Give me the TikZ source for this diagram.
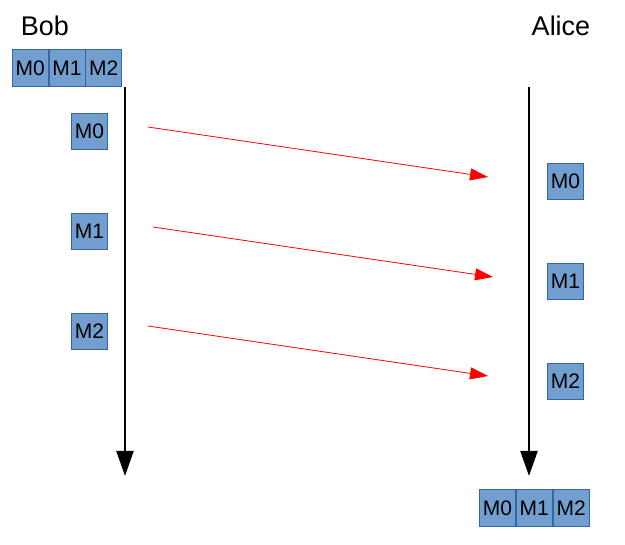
\documentclass[tikz,border=0pt]{standalone}
\usepackage{fontspec}
\setmainfont{Liberation Sans}
\usetikzlibrary{arrows.meta,positioning}
\definecolor{boxfill}{HTML}{729FCF}
\definecolor{boxline}{HTML}{3465A4}
\tikzset{
  msg/.style={draw=boxline, fill=boxfill, line width=0.8pt, minimum width=36pt, minimum height=36.5pt, inner sep=0pt, font=\fontsize{21}{21}\selectfont, text=black},
  life/.style={line width=2.2pt, -{Triangle[length=25pt,width=17pt]}},
  send/.style={red, line width=0.8pt, -{Triangle[length=18pt,width=12pt]}},
  who/.style={font=\fontsize{27}{27}\selectfont, anchor=base}
}
\begin{document}
\begin{tikzpicture}[x=1pt,y=-1pt]
\useasboundingbox (0,0) rectangle (625,545);
\node[who] (bob) at (45,35.5) {Bob};
\node[who] (alice) at (561,35.5) {Alice};
% Bob's stack
\node[msg] (b0) at (30.2,68) {M0};
\node[msg, right=0pt of b0] (b1) {M1};
\node[msg, right=0pt of b1] (b2) {M2};
% Alice's stack
\node[msg] (a0s) at (497.5,508) {M0};
\node[msg, right=0pt of a0s] (a1s) {M1};
\node[msg, right=0pt of a1s] (a2s) {M2};
% lifelines
\coordinate (bt) at (125,87);
\coordinate (bb) at (125,476);
\coordinate (at) at (529,87);
\coordinate (ab) at (529,476);
\draw[life] (bt) -- (bb);
\draw[life] (at) -- (ab);
% messages
\node[msg] (m0) at (89.5,131.5) {M0};
\node[msg] (m1) at (89.5,231.5) {M1};
\node[msg] (m2) at (89.5,331.5) {M2};
\node[msg] (r0) at (565.5,181.5) {M0};
\node[msg] (r1) at (565.5,281.5) {M1};
\node[msg] (r2) at (565.5,381.5) {M2};
\coordinate (s0) at (148,127);
\coordinate (e0) at (488,177);
\coordinate (s1) at (153,227);
\coordinate (e1) at (493,277);
\coordinate (s2) at (148,326);
\coordinate (e2) at (488,376);
\draw[send] (s0) -- (e0);
\draw[send] (s1) -- (e1);
\draw[send] (s2) -- (e2);
\end{tikzpicture}
\end{document}
